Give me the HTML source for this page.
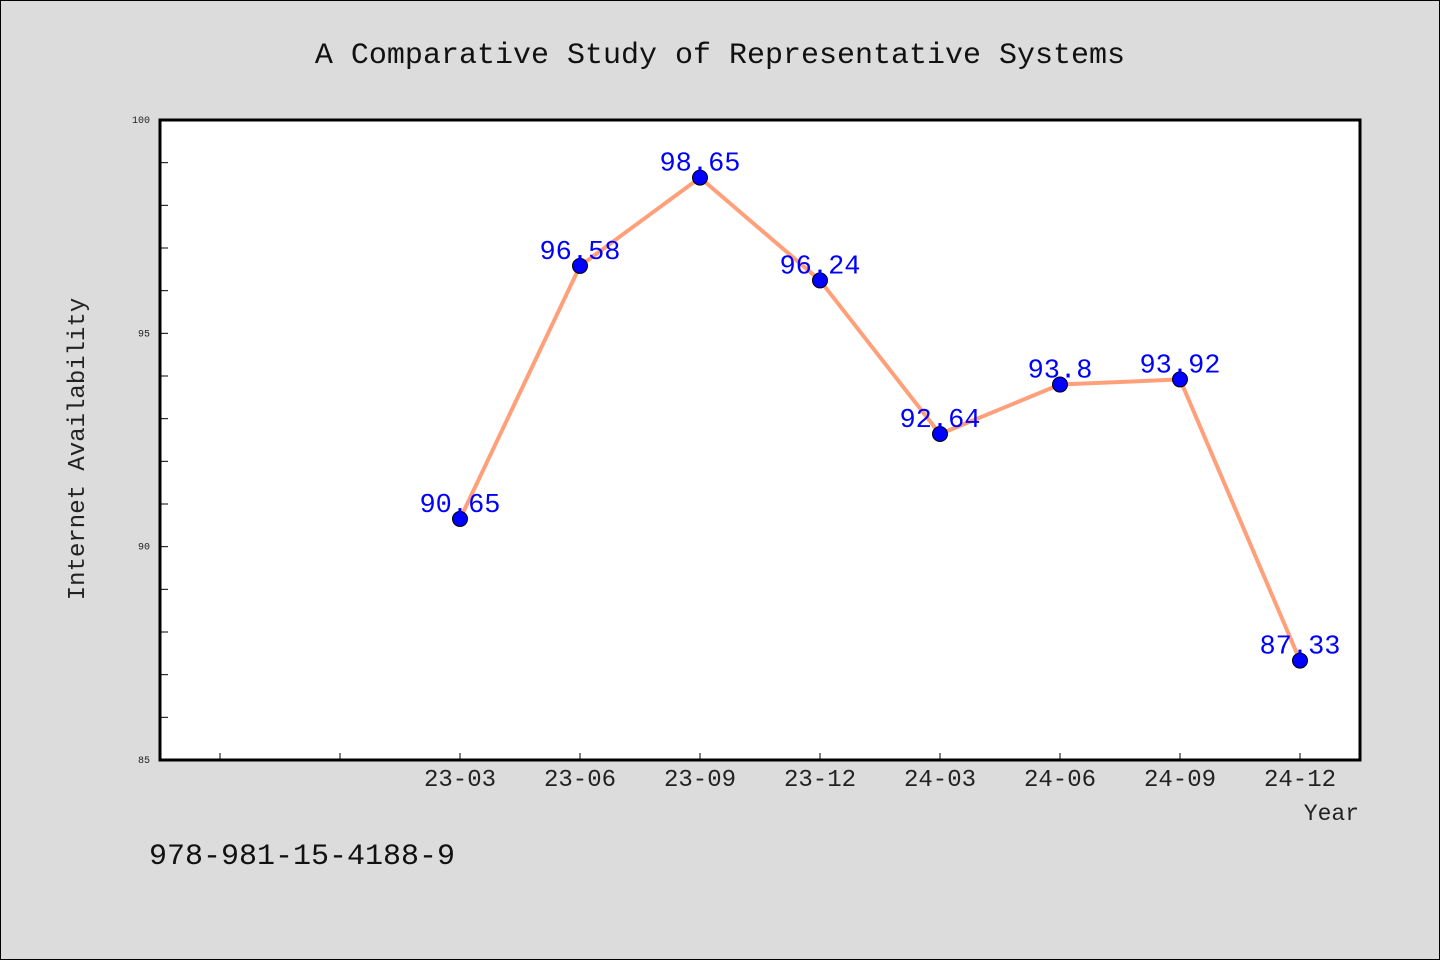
<!DOCTYPE html>
<html><head><meta charset="utf-8"><style>
html,body{margin:0;padding:0;background:#dcdcdc;}
svg{display:block;font-family:"Liberation Mono","WenQuanYi Zen Hei",monospace;}
</style></head><body>
<svg width="1440" height="960" xmlns="http://www.w3.org/2000/svg">
<rect x="0.5" y="0.5" width="1439" height="959" fill="#dcdcdc" stroke="#000"/>
<text x="720" y="63" text-anchor="middle" font-size="30" fill="#111">A Comparative Study of Representative Systems</text>
<rect x="160" y="120" width="1200" height="640" fill="#fff"/>
<g id="axes"></g>
<g id="series"></g>
<rect x="160" y="120" width="1200" height="640" fill="none" stroke="#000" stroke-width="3"/>
<text x="84" y="449" transform="rotate(-90 84 449)" text-anchor="middle" font-size="24" fill="#222">Internet Availability</text>
<text x="1359" y="820" text-anchor="end" font-size="23" fill="#222">Year</text>
<text x="149" y="864" font-size="30" fill="#111">978-981-15-4188-9</text>
</svg>
<script>
const categories = ["", "", "23-03","23-06","23-09","23-12","24-03","24-06","24-09","24-12"];
const values = [null, null, 90.65, 96.58, 98.65, 96.24, 92.64, 93.8, 93.92, 87.33];
const valueLabels = ["", "", "90.65","96.58","98.65","96.24","92.64","93.8","93.92","87.33"];
const yTicks = [85, 90, 95, 100];
const yMinor = [86,87,88,89,91,92,93,94,96,97,98,99];
const NS="http://www.w3.org/2000/svg";
const x0=160,x1=1360,y0=120,y1=760,ymin=85,ymax=100;
const xs=i=>x0+60+i*(x1-x0)/categories.length;
const ys=v=>y1-(v-ymin)/(ymax-ymin)*(y1-y0);
function mk(t,a,p){const e=document.createElementNS(NS,t);for(const k in a)e.setAttribute(k,a[k]);p.appendChild(e);return e;}
const ax=document.getElementById('axes'), se=document.getElementById('series');
yTicks.forEach(v=>{
  const l=mk('line',{x1:x0,x2:x0+8,y1:ys(v),y2:ys(v),stroke:'#000','stroke-width':1},ax);
  
  
  const t=mk('text',{x:x0-10,y:ys(v)+3,'text-anchor':'end','font-size':10,fill:'#222'},ax);
  t.textContent=v;
  
  
});
yMinor.forEach(v=>{
  const l=mk('line',{x1:x0,x2:x0+8,y1:ys(v),y2:ys(v),stroke:'#000','stroke-width':1},ax);
  
  
});
categories.forEach((c,i)=>{
  const l=mk('line',{x1:xs(i),x2:xs(i),y1:y1,y2:y1-7,stroke:'#000','stroke-width':1},ax);
  
  
  const t=mk('text',{x:xs(i),y:y1+26,'text-anchor':'middle','font-size':24,fill:'#222'},ax);
  t.textContent=c;
  
  
});
const pts=[];values.forEach((v,i)=>{if(v!==null)pts.push(xs(i)+','+ys(v));});
const pl=mk('polyline',{points:pts.join(' '),fill:'none',stroke:'#ffa07a','stroke-width':4,'stroke-linejoin':'round'},se);


values.forEach((v,i)=>{
  if(v===null)return;
  const c=mk('circle',{cx:xs(i),cy:ys(v),r:7.5,fill:'#0000ff',stroke:'#000','stroke-width':1},se);
  
  
  const t=mk('text',{x:xs(i),y:ys(v)-7,'text-anchor':'middle','font-size':27,fill:'#0000ff'},se);
  t.textContent=valueLabels[i];
  
  
});
</script>
</body></html>
